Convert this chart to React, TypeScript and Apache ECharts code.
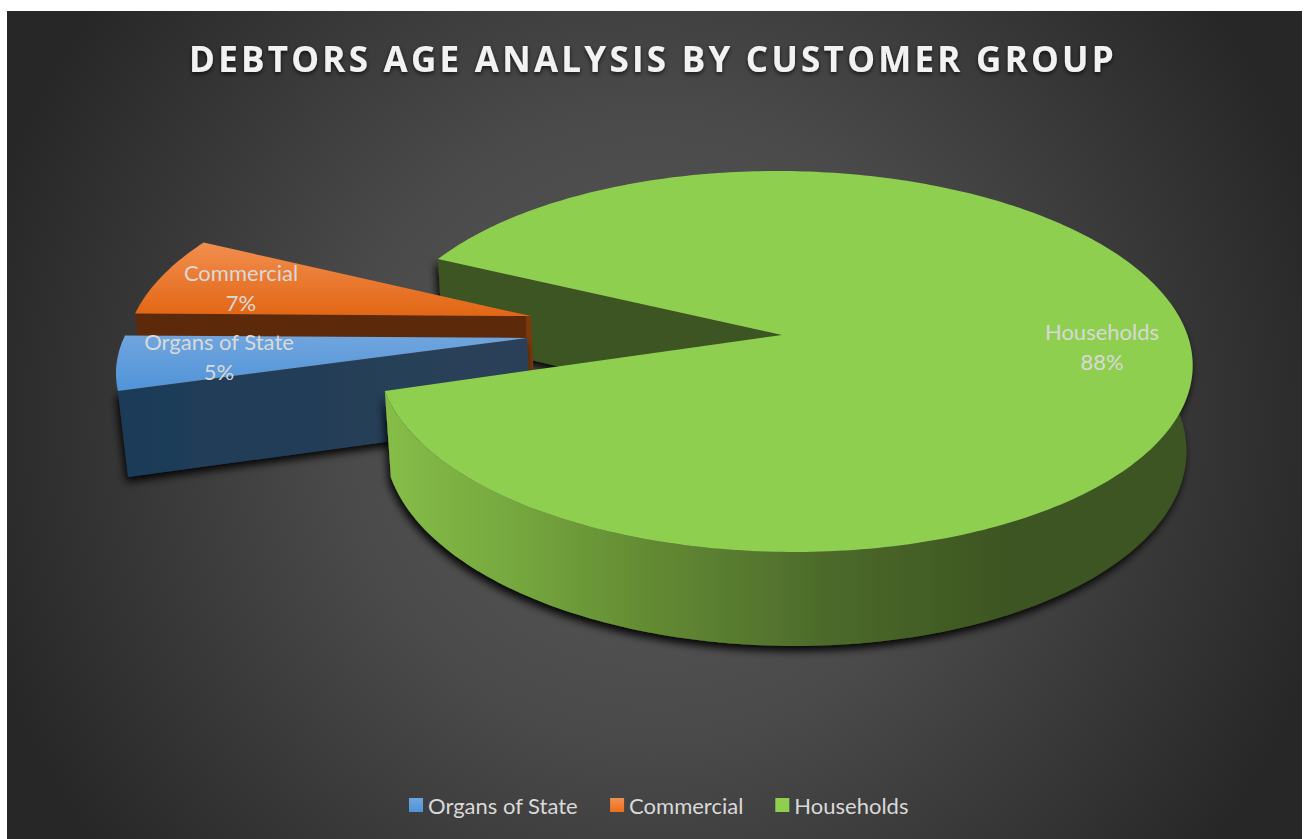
import React, { useEffect, useRef } from "react";
import * as echarts from "echarts";

const titleText = "DEBTORS AGE ANALYSIS BY CUSTOMER GROUP";
const categories = ["Organs of State", "Commercial", "Households"];
const values = [4.9, 6.9, 88.2];
const total = values.reduce((a, b) => a + b, 0);

const FONT = "Lato, 'Open Sans', sans-serif";
const TITLE_FONT = "'Open Sans', Lato, sans-serif";
const START_ANGLE = 253.2;
const CX = 782, CY = 335, A = 403, B = 186.8, D = 85.6, P = 0.139, Q = 0.015, R = -0.006, K = 8;

const pulls = [
  [-0.634, -0.016],
  [-0.632, 0.103],
  [0, 0],
];
const rimScale = [
  [1.012, 0.95],
  [1.013, 1],
  [1, 1],
];
const labelAnchors = [
  [219, 356],
  [241, 287],
  [1102, 346],
];
const topFills: any[] = [
  grad(0, 336, 0, 392, [[0, "#70a5de"], [1, "#4f93d8"]]),
  grad(0, 241, 0, 316, [[0, "#f28f50"], [1, "#e26614"]]),
  "#8fcf50",
];
const legendFills: any[] = [
  grad(0, 0, 0, 1, [[0, "#70a5de"], [1, "#4f93d8"]], false),
  grad(0, 0, 0, 1, [[0, "#f28f50"], [1, "#ec701c"]], false),
  "#8fcf50",
];

function grad(x: number, y: number, x2: number, y2: number, stops: any[], global = true) {
  return { type: "linear", x, y, x2, y2, global, colorStops: stops.map(([offset, color]) => ({ offset, color })) };
}

function project(X: number, Y: number, Z: number): [number, number] {
  const w = 1 + P * Y + R * X + Q * Z;
  return [CX + (A * X - K * Y) / w, CY - (B * Y) / w + (D * Z) / w];
}

function sliceAngles(i: number): [number, number] {
  let a = START_ANGLE;
  for (let k = 0; k < i; k++) a += (360 * values[k]) / total;
  return [a, a + (360 * values[i]) / total];
}

function rim(i: number, from: number, to: number, Z: number) {
  const [ox, oy] = pulls[i];
  const [kx, ky] = rimScale[i];
  const pts: [number, number][] = [];
  const n = Math.max(2, Math.ceil(Math.abs(to - from)));
  for (let k = 0; k <= n; k++) {
    const t = ((from + ((to - from) * k) / n) * Math.PI) / 180;
    pts.push(project(ox + kx * Math.sin(t), oy + ky * Math.cos(t), Z));
  }
  return pts;
}

function apex(i: number, Z: number) {
  return project(pulls[i][0], pulls[i][1], Z);
}

function wall(i: number, angle: number, style: any) {
  const t = rim(i, angle, angle, 0)[0];
  const b = rim(i, angle, angle, 1)[0];
  return { type: "polygon", silent: true, shape: { points: [t, apex(i, 0), apex(i, 1), b] }, style };
}

const shadow = { shadowBlur: 8, shadowColor: "rgba(0,0,0,0.95)", shadowOffsetX: -2, shadowOffsetY: 5 };

function top(i: number) {
  const [a0, a1] = sliceAngles(i);
  return {
    type: "polygon",
    silent: true,
    shape: { points: [apex(i, 0), ...rim(i, a0, a1, 0)] },
    style: { fill: topFills[i] },
  };
}

function label(i: number, value: number) {
  const [x, y] = labelAnchors[i];
  return {
    type: "text",
    silent: true,
    style: {
      text: `${categories[i]}\n${Math.round((value / total) * 100)}%`,
      x,
      y,
      align: "center",
      verticalAlign: "middle",
      fill: "#d9d9d9",
      font: `22px ${FONT}`,
      lineHeight: 30,
    },
  };
}

function renderBack() {
  const [, a1] = sliceAngles(1);
  return wall(2, a1, { fill: "#3c5420", ...shadow });
}

function renderOrgans(_: any, api: any) {
  const [a0] = sliceAngles(0);
  return {
    type: "group",
    children: [
      wall(0, a0, {
        fill: grad(120, 0, 530, 0, [[0, "#1d3b58"], [1, "#2c4159"]]),
        ...shadow,
      }),
      top(0),
      label(0, api.value(0)),
    ],
  };
}

function renderCommercial(_: any, api: any) {
  const [a0] = sliceAngles(1);
  return {
    type: "group",
    children: [
      wall(1, a0, { fill: grad(135, 0, 531, 0, [[0, "#5c2a0a"], [0.985, "#5c2a0a"], [0.99, "#7a3a0c"], [1, "#7a3a0c"]]) }),
      top(1),
      label(1, api.value(0)),
    ],
  };
}

function renderHouseholds(_: any, api: any) {
  const [, a1] = sliceAngles(2);
  const endAngle = a1 - 360;
  const topArc = rim(2, 80, endAngle, 0);
  const botArc = rim(2, 80, endAngle, 1).reverse();
  return {
    type: "group",
    children: [
      {
        type: "polygon",
        silent: true,
        shape: { points: [...topArc, ...botArc] },
        style: {
          fill: grad(386, 0, 1190, 0, [
            [0, "#86bd48"],
            [0.15, "#76a93f"],
            [0.33, "#638a33"],
            [0.55, "#4c6a2b"],
            [0.78, "#3c5420"],
            [1, "#3c5420"],
          ]),
          ...shadow,
        },
      },
      top(2),
      label(2, api.value(0)),
    ],
  };
}

function customSeries(name: string, index: number, renderItem: any, z: number) {
  return {
    type: "custom",
    name,
    coordinateSystem: "none",
    silent: true,
    z,
    itemStyle: { color: legendFills[index] },
    data: [[values[index]]],
    renderItem,
  };
}

export default function App() {
  const ref = useRef<HTMLDivElement>(null);
  useEffect(() => {
    document.body.style.margin = "0";
    document.body.style.background = "#fff";
    const chart = echarts.init(ref.current!, null, { renderer: "svg" });
    chart.setOption({
      animation: false,
      backgroundColor: "#ffffff",
      title: {
        text: titleText,
        left: 648,
        top: 36,
        textAlign: "center",
        textStyle: {
          color: "#f2f2f2",
          fontFamily: TITLE_FONT,
          fontWeight: "bold",
          fontSize: 35,
          textShadowColor: "rgba(0,0,0,0.7)",
          textShadowBlur: 4,
          textShadowOffsetY: 2,
        },
      },
      legend: {
        left: 404,
        top: 789,
        itemWidth: 14,
        itemHeight: 14,
        itemGap: 32,
        icon: "rect",
        data: categories,
        selectedMode: false,
        textStyle: { color: "#d9d9d9", fontFamily: FONT, fontSize: 22 },
      },
      graphic: [
        {
          type: "rect",
          z: -10,
          silent: true,
          shape: { x: 7, y: 11, width: 1295, height: 828 },
          style: {
            fill: {
              type: "radial",
              x: 654,
              y: 425,
              r: 700,
              global: true,
              colorStops: [
                { offset: 0, color: "#5a5a5a" },
                { offset: 0.45, color: "#4a4a4a" },
                { offset: 1, color: "#272727" },
              ],
            },
          },
        },
      ],
      series: [
        customSeries("Households back wall", 2, renderBack, 1),
        customSeries(categories[1], 1, renderCommercial, 2),
        customSeries(categories[0], 0, renderOrgans, 3),
        customSeries(categories[2], 2, renderHouseholds, 4),
      ],
    });
    return () => chart.dispose();
  }, []);
  return (
    <>
      <style>{`text[style*="bold"]{letter-spacing:3.25px}`}</style>
      <div ref={ref} style={{ position: "absolute", left: 0, top: 0, width: 1306, height: 839 }} />
    </>
  );
}
